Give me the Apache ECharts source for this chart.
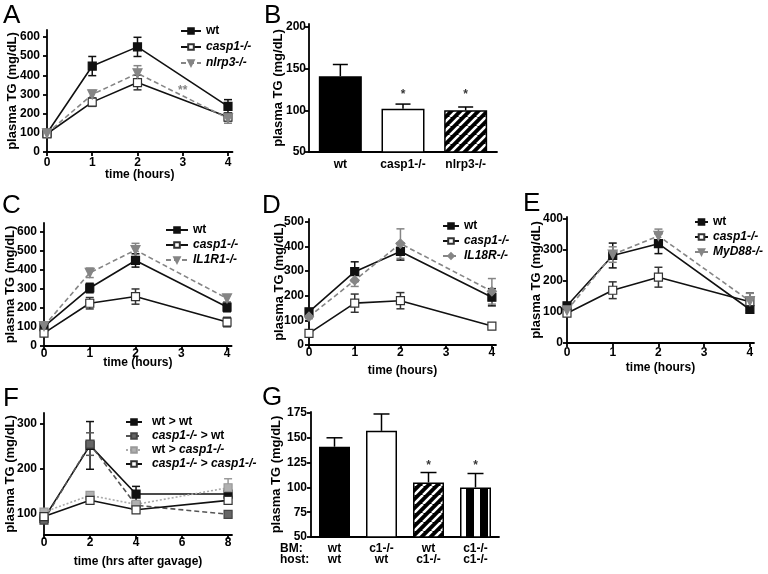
<!DOCTYPE html>
<html>
<head>
<meta charset="utf-8">
<script src="https://cdn.jsdelivr.net/npm/echarts@6/dist/echarts.min.js"></script>
<style>
  html, body { margin: 0; padding: 0; background: #fff; }
  #chart { width: 768px; height: 574px; }
</style>
</head>
<body>
<div id="chart"></div>
<script>
// ---- data ----
const hours = [0, 1, 2, 4];
const hoursF = [0, 2, 4, 8];

// A
const aWt = [98, 448, 548, 238];
const aWtErr = [8, 50, 50, 35];
const aCasp = [95, 260, 362, 182];
const aCaspErr = [8, 22, 38, 20];
const aNlrp3 = [97, 300, 410, 175];
const aNlrp3Err = [8, 22, 40, 25];

// B
const bCats = ['wt', 'casp1-/-', 'nlrp3-/-'];
const bVals = [141, 102, 100];
const bErr = [14, 5.5, 4];

// C
const cWt = [102, 305, 450, 205];
const cWtErr = [8, 25, 35, 25];
const cCasp = [68, 225, 260, 126];
const cCaspErr = [6, 30, 40, 25];
const cIl1r1 = [105, 385, 505, 250];
const cIl1r1Err = [6, 25, 35, 20];

// D
const dWt = [135, 298, 380, 194];
const dWtErr = [10, 40, 35, 35];
const dCasp = [47, 170, 180, 77];
const dCaspErr = [6, 37, 33, 5];
const dIl18r = [115, 263, 412, 218];
const dIl18rErr = [8, 25, 60, 52];

// E
const eWt = [120, 282, 320, 108];
const eWtErr = [8, 40, 32, 10];
const eCasp = [96, 170, 212, 133];
const eCaspErr = [8, 27, 32, 28];
const eMyd88 = [105, 285, 345, 135];
const eMyd88Err = [8, 25, 22, 25];

// F
const fWtWt = [90, 252, 144, 144];
const fWtWtErr = [5, 53, 17, 6];
const fCaspWt = [86, 255, 119, 99];
const fCaspWtErr = [5, 25, 6, 5];
const fWtCasp = [104, 141, 121, 158];
const fWtCaspErr = [6, 8, 6, 20];
const fCaspCasp = [94, 130, 109, 130];
const fCaspCaspErr = [5, 6, 5, 5];

// G
const gCats = ['wt\nwt', 'c1-/-\nwt', 'wt\nc1-/-', 'c1-/-\nc1-/-'];
const gVals = [141, 157, 105, 100];
const gErr = [9, 17, 10, 14];

// tick values
const ticksA = [0, 100, 200, 300, 400, 500, 600];
const ticksB = [50, 100, 150, 200];
const ticksD = [0, 100, 200, 300, 400, 500];
const ticksE = [0, 100, 200, 300, 400];
const ticksF = [100, 200, 300];
const ticksG = [50, 75, 100, 125, 150, 175];
const ticksHours = [0, 1, 2, 3, 4];
const ticksHoursF = [0, 2, 4, 6, 8];

// ---- styles ----
const FONT = '"Liberation Sans", Arial, sans-serif';
const BLACK = '#111';
const GRAY = '#858585';

// 填充圖樣
function hatchPattern() {
  const s = 9;
  const c = document.createElement('canvas');
  c.width = c.height = s;
  const g = c.getContext('2d');
  g.fillStyle = '#000';
  g.fillRect(0, 0, s, s);
  g.strokeStyle = '#fff';
  g.lineWidth = 2.6;
  g.beginPath();
  for (const o of [-s, 0, s]) { g.moveTo(o, s); g.lineTo(o + s, 0); }
  g.stroke();
  return { image: c, repeat: 'repeat' };
}
function stripePattern() {
  const c = document.createElement('canvas');
  c.width = 14; c.height = 14;
  const g = c.getContext('2d');
  g.fillStyle = '#fff';
  g.fillRect(0, 0, 14, 14);
  g.fillStyle = '#000';
  g.fillRect(4, 0, 8, 14);
  return { image: c, repeat: 'repeat' };
}

const solidFilled = { symbol: 'rect', size: 8, fill: BLACK, border: BLACK, line: BLACK };
const solidOpen = { symbol: 'rect', size: 8, fill: '#fff', border: '#333', line: BLACK };
const dashedTri = { symbol: 'triangle', size: 9, rotate: 180, fill: GRAY, border: GRAY, line: GRAY, dash: [5, 3] };
const dashedDia = { symbol: 'diamond', size: 9, fill: GRAY, border: GRAY, line: GRAY, dash: [5, 3] };

function lineSeries(gi, name, xs, ys, st) {
  return {
    type: 'line', name, xAxisIndex: gi, yAxisIndex: gi,
    data: xs.map((x, i) => [x, ys[i]]),
    symbol: st.symbol, symbolSize: st.size, symbolRotate: st.rotate || 0,
    showAllSymbol: true,
    lineStyle: { color: st.line, width: 1.6, type: st.dash || 'solid' },
    itemStyle: { color: st.fill, borderColor: st.border, borderWidth: 1.2 },
    emphasis: { disabled: true },
    z: 3, silent: true
  };
}

// 誤差線
function errSeries(gi, xs, ys, es, color, cap, upOnly) {
  return {
    type: 'custom', xAxisIndex: gi, yAxisIndex: gi, silent: true, z: 2,
    data: xs.map((x, i) => [x, upOnly ? ys[i] : ys[i] - es[i], ys[i] + es[i]]),
    renderItem: (params, api) => {
      const lo = api.coord([api.value(0), api.value(1)]);
      const hi = api.coord([api.value(0), api.value(2)]);
      const st = { stroke: color, lineWidth: 1.5 };
      const kids = [
        { type: 'line', shape: { x1: lo[0], y1: lo[1], x2: hi[0], y2: hi[1] }, style: st },
        { type: 'line', shape: { x1: hi[0] - cap / 2, y1: hi[1], x2: hi[0] + cap / 2, y2: hi[1] }, style: st }
      ];
      if (!upOnly) {
        kids.push({ type: 'line', shape: { x1: lo[0] - cap / 2, y1: lo[1], x2: lo[0] + cap / 2, y2: lo[1] }, style: st });
      }
      return { type: 'group', children: kids };
    }
  };
}

function starSeries(gi, points, text, color) {
  return {
    type: 'scatter', xAxisIndex: gi, yAxisIndex: gi, silent: true, z: 5,
    symbolSize: 1, itemStyle: { color: 'rgba(0,0,0,0)' },
    data: points,
    label: { show: true, position: 'inside', formatter: text, color,
      fontFamily: FONT, fontWeight: 'bold', fontSize: 12 }
  };
}

const lblStyle = { fontFamily: FONT, fontWeight: 'bold', fontSize: 12, color: '#000' };
const axisLineStyle = { color: '#000', width: 1.8 };

function yAxisCfg(gi, min, max, ticks, nameGap, margin) {
  return {
    type: 'value', gridIndex: gi, min, max,
    name: 'plasma TG (mg/dL)', nameLocation: 'middle', nameGap, nameMoveOverlap: false,
    nameTextStyle: { fontFamily: FONT, fontWeight: 'bold', fontSize: 13, color: '#000' },
    axisLine: { show: true, onZero: false, lineStyle: axisLineStyle },
    axisTick: { show: true, length: 4, customValues: ticks, lineStyle: axisLineStyle },
    axisLabel: Object.assign({ customValues: ticks, margin }, lblStyle),
    splitLine: { show: false }
  };
}

function xValAxis(gi, max, ticks, name, nameGap, margin) {
  return {
    type: 'value', gridIndex: gi, min: 0, max,
    name, nameLocation: 'middle', nameGap, nameMoveOverlap: false,
    nameTextStyle: { fontFamily: FONT, fontWeight: 'bold', fontSize: 12, color: '#000' },
    axisLine: { show: true, onZero: false, lineStyle: axisLineStyle },
    axisTick: { show: true, length: 4, customValues: ticks, lineStyle: axisLineStyle },
    axisLabel: Object.assign({ customValues: ticks, margin }, lblStyle),
    splitLine: { show: false }
  };
}

function xCatAxis(gi, cats, margin, lineHeight) {
  return {
    type: 'category', gridIndex: gi, data: cats,
    axisLine: { show: true, onZero: false, lineStyle: axisLineStyle },
    axisTick: { show: false },
    axisLabel: Object.assign({ margin, interval: 0, lineHeight }, lblStyle),
    splitLine: { show: false }
  };
}

function legendCfg(left, top, names, itemWidth, itemGap, padLeft) {
  return {
    left, top, orient: 'vertical', selectedMode: false,
    itemWidth, itemHeight: 7, itemGap,
    data: names,
    formatter: n => n.split(/( > )/).map(p => (p === 'wt' || p === ' > ') ? p : `{i|${p}}`).join(''),
    textStyle: Object.assign({ padding: [0, 0, 0, padLeft || 0],
      rich: { i: Object.assign({ fontStyle: 'italic' }, lblStyle) } }, lblStyle)
  };
}

function grid(left, top, width, height) {
  return { left, top, width, height, containLabel: false, outerBoundsMode: 'none' };
}

const hatch = hatchPattern();
const stripes = stripePattern();
const barBorder = { borderColor: '#000', borderWidth: 1.5 };

const series = [
  // A
  errSeries(0, hours, aWt, aWtErr, BLACK, 8),
  errSeries(0, hours, aCasp, aCaspErr, '#333', 8),
  errSeries(0, hours, aNlrp3, aNlrp3Err, GRAY, 8),
  lineSeries(0, 'wt', hours, aWt, solidFilled),
  lineSeries(0, 'casp1-/-', hours, aCasp, solidOpen),
  lineSeries(0, 'nlrp3-/-', hours, aNlrp3, dashedTri),
  starSeries(0, [[3, 322]], '**', '#666'),
  // B
  {
    type: 'bar', xAxisIndex: 1, yAxisIndex: 1, barWidth: 43, silent: true,
    data: [
      { value: bVals[0], itemStyle: Object.assign({ color: '#000' }, barBorder) },
      { value: bVals[1], itemStyle: Object.assign({ color: '#fff' }, barBorder) },
      { value: bVals[2], itemStyle: Object.assign({ color: hatch }, barBorder) }
    ]
  },
  errSeries(1, [0, 1, 2], bVals, bErr, '#000', 15, true),
  starSeries(1, [[1, 119], [2, 119]], '*', '#000'),
  // C
  errSeries(2, hours, cWt, cWtErr, BLACK, 8),
  errSeries(2, hours, cCasp, cCaspErr, '#333', 8),
  errSeries(2, hours, cIl1r1, cIl1r1Err, GRAY, 8),
  lineSeries(2, 'wt', hours, cWt, solidFilled),
  lineSeries(2, 'casp1-/-', hours, cCasp, solidOpen),
  lineSeries(2, 'IL1R1-/-', hours, cIl1r1, dashedTri),
  // D
  errSeries(3, hours, dWt, dWtErr, BLACK, 8),
  errSeries(3, hours, dCasp, dCaspErr, '#333', 8),
  errSeries(3, hours, dIl18r, dIl18rErr, GRAY, 8),
  lineSeries(3, 'wt', hours, dWt, solidFilled),
  lineSeries(3, 'casp1-/-', hours, dCasp, solidOpen),
  lineSeries(3, 'IL18R-/-', hours, dIl18r, dashedDia),
  // E
  errSeries(4, hours, eWt, eWtErr, BLACK, 8),
  errSeries(4, hours, eCasp, eCaspErr, '#333', 8),
  errSeries(4, hours, eMyd88, eMyd88Err, GRAY, 8),
  lineSeries(4, 'wt', hours, eWt, solidFilled),
  lineSeries(4, 'casp1-/-', hours, eCasp, solidOpen),
  lineSeries(4, 'MyD88-/-', hours, eMyd88, dashedTri),
  // F
  errSeries(5, hoursF, fWtWt, fWtWtErr, BLACK, 8),
  errSeries(5, hoursF, fCaspWt, fCaspWtErr, '#555', 8),
  errSeries(5, hoursF, fWtCasp, fWtCaspErr, '#999', 8),
  errSeries(5, hoursF, fCaspCasp, fCaspCaspErr, '#333', 8),
  lineSeries(5, 'wt > wt', hoursF, fWtWt, solidFilled),
  lineSeries(5, 'casp1-/- > wt', hoursF, fCaspWt,
    { symbol: 'rect', size: 8, fill: '#666', border: '#444', line: '#555', dash: [5, 3] }),
  lineSeries(5, 'wt > casp1-/-', hoursF, fWtCasp,
    { symbol: 'rect', size: 8, fill: '#b0b0b0', border: '#999', line: '#aaa', dash: [2, 2] }),
  lineSeries(5, 'casp1-/- > casp1-/-', hoursF, fCaspCasp, solidOpen),
  // G
  {
    type: 'bar', xAxisIndex: 6, yAxisIndex: 6, barWidth: 31, silent: true,
    data: [
      { value: gVals[0], itemStyle: Object.assign({ color: '#000' }, barBorder) },
      { value: gVals[1], itemStyle: Object.assign({ color: '#fff' }, barBorder) },
      { value: gVals[2], itemStyle: Object.assign({ color: hatch }, barBorder) },
      { value: gVals[3], itemStyle: Object.assign({ color: stripes }, barBorder) }
    ]
  },
  errSeries(6, [0, 1, 2, 3], gVals, gErr, '#000', 16, true),
  starSeries(6, [[2, 122], [3, 122]], '*', '#000')
];

const letter = (t, x, y) => ({
  type: 'text', left: x, top: y,
  style: { text: t, font: '26px ' + FONT, fill: '#000' }
});

const option = {
  animation: false,
  backgroundColor: '#fff',
  grid: [
    grid(47, 30, 185.5, 122),   // A
    grid(309, 24, 188, 128),    // B
    grid(44, 223, 187.6, 123),  // C
    grid(309, 219, 187, 126),   // D
    grid(567, 217, 187, 126),   // E
    grid(44, 413, 188, 122),    // F
    grid(311, 412, 188, 125)    // G
  ],
  xAxis: [
    xValAxis(0, 4.1, ticksHours, 'time (hours)', 17, 5),
    xCatAxis(1, bCats, 6, 14),
    xValAxis(2, 4.1, ticksHours, 'time (hours)', 11, 2),
    xValAxis(3, 4.09, ticksHours, 'time (hours)', 20, 2),
    xValAxis(4, 4.09, ticksHours, 'time (hours)', 19, 4),
    xValAxis(5, 8.17, ticksHoursF, 'time (hrs after gavage)', 21, 2),
    xCatAxis(6, gCats, 6, 11)
  ],
  yAxis: [
    yAxisCfg(0, 0, 636, ticksA, 28, 7),
    yAxisCfg(1, 50, 203.6, ticksB, 24, 3),
    yAxisCfg(2, 0, 647, ticksA, 27, 7),
    yAxisCfg(3, 0, 512, ticksD, 23, 5),
    yAxisCfg(4, 0, 406, ticksE, 24, 4),
    yAxisCfg(5, 53, 324, ticksF, 27, 7),
    yAxisCfg(6, 50, 176, ticksG, 28, 4)
  ],
  legend: [
    legendCfg(175, 20, ['wt', 'casp1-/-', 'nlrp3-/-'], 20, 4),
    legendCfg(160, 219, ['wt', 'casp1-/-', 'IL1R1-/-'], 22, 3),
    legendCfg(437, 215, ['wt', 'casp1-/-', 'IL18R-/-'], 16, 3),
    legendCfg(689, 211, ['wt', 'casp1-/-', 'MyD88-/-'], 13, 3),
    legendCfg(120, 411, ['wt > wt', 'casp1-/- > wt', 'wt > casp1-/-', 'casp1-/- > casp1-/-'], 16, 2, 5)
  ],
  graphic: [
    letter('A', 3, 3),
    letter('B', 264, 3),
    letter('C', 2, 193),
    letter('D', 262, 193),
    letter('E', 523, 191),
    letter('F', 3, 386),
    letter('G', 262, 385),
    {
      type: 'text', left: 280, top: 543,
      style: { text: 'BM:\nhost:', font: 'bold 12px ' + FONT, lineHeight: 11, fill: '#000' }
    }
  ],
  series
};

const chart = echarts.init(document.getElementById('chart'));
chart.setOption(option);
</script>
</body>
</html>
